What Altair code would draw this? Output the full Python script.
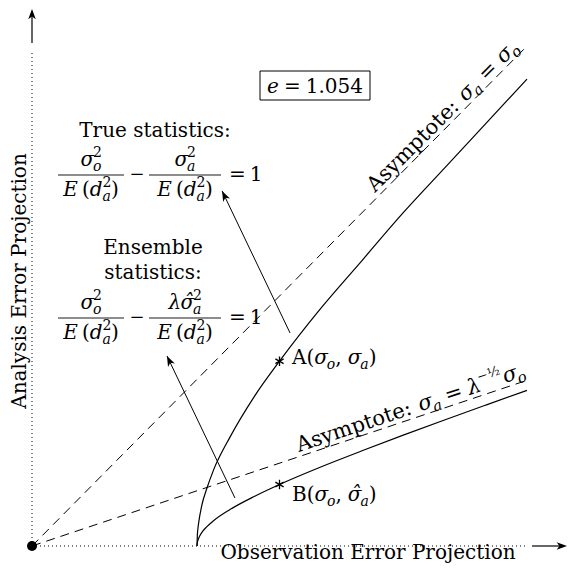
import math
import altair as alt
import pandas as pd

# ---------------- data (sigma in units of sqrt(E(d_a^2))) ----------------
sigma_o = [1.0, 1.002, 1.005, 1.01, 1.03, 1.06, 1.1, 1.2, 1.35, 1.5, 1.75, 2.0, 2.25, 2.5, 2.75, 3.0]
sigma_a_true = [0.0, 0.063, 0.1, 0.14, 0.25, 0.35, 0.46, 0.66, 0.91, 1.12, 1.44, 1.73, 2.02, 2.29, 2.56, 2.83]
sigma_a_ens = [0.0, 0.021, 0.033, 0.047, 0.083, 0.117, 0.153, 0.221, 0.302, 0.373, 0.479, 0.577, 0.672, 0.764, 0.854, 0.943]
asym_o = [0.0, 3.006]
asym_true = [0.0, 3.036]
asym_ens = [0.0, 1.006]
point_names = ["A", "B"]
point_o = [1.5, 1.5]
point_a = [1.12, 0.373]
arrow_tail_o = [1.564, 1.230]
arrow_tail_a = [1.291, 0.291]
arrow_head_o = [1.152, 0.818]
arrow_head_a = [2.152, 1.152]
e_text = "1.054"

# ---------------- layout helpers ----------------
OX, OY, U = 32, 546, 165
W, H = 560, 557
FONT = "DejaVu Serif"


def dx(px):
    return (px - OX) / U


def dy(py):
    return (OY - py) / U


XS = alt.Scale(domain=[dx(8), dx(8 + W)], nice=False, zero=False)
YS = alt.Scale(domain=[dy(8 + H), dy(8)], nice=False, zero=False)


def X(f):
    return alt.X(f, type="quantitative", scale=XS, axis=None)


def Y(f):
    return alt.Y(f, type="quantitative", scale=YS, axis=None)


CW = {'A': .722, 's': .514, 'y': .565, 'm': .948, 'p': .64, 't': .402, 'o': .602,
      'e': .592, ':': .337, ' ': .318, '=': .838, '−': .838, '(': .39, ')': .39,
      '1': .636, '0': .636, '5': .636, '4': .636, '.': .318, '2': .636, ',': .318,
      'B': .732, 'λ': .6, 'σ': .63, 'E': .73, 'd': .64, 'a': .6, '½': .9, '\u0302': 0}


def tw(s, size):
    return sum(CW.get(c, 0.6) for c in s) * size


def adv_of(t, s, a):
    if a is True:
        return tw(t, s)
    if a is False:
        return 0.0
    return float(a)


left_pieces = []    # math pieces, left aligned, alphabetic baseline
center_pieces = []  # plain centered text


def run(x0, y0, items, angle=0.0, center=False):
    total = sum(adv_of(t, s, a) for t, s, it, r, a in items)
    if center:
        x0 -= total / 2
    rad = math.radians(angle)
    c, sn = math.cos(rad), math.sin(rad)
    adv = 0.0
    for t, s, it, rise, a in items:
        px = x0 + adv * c - rise * sn
        py = y0 + adv * sn + rise * c
        if t:
            left_pieces.append(dict(x=dx(px), y=dy(py), t=t, s=s,
                                    it="italic" if it else "normal", ang=angle))
        adv += adv_of(t, s, a)


def gap(w):
    return ("", 20, False, 0, w)


def sig(sub, hat=False, s=20):
    k = s / 20
    return [("σ\u0302" if hat else "σ", s, True, 0, True),
            ("2", round(14 * k), False, -9 * k, False), (sub, round(14 * k), True, 5 * k, True)]


DEN = [("E", 20, True, 0, True), gap(4), ("(", 20, False, 0, True), ("d", 20, True, 0, True),
       ("2", 14, False, -9, False), ("a", 14, True, 5, True), (")", 20, False, 0, True)]

rules = []


def formula(line_y, num2):
    run(91, line_y - 9, sig("o"), center=True)
    run(91, line_y + 21, DEN, center=True)
    rules.append(dict(x=dx(58), x2=dx(124), y=dy(line_y)))
    run(137, line_y + 5, [("−", 18, False, 0, True)], center=True)
    run(185, line_y - 9, num2, center=True)
    run(185, line_y + 21, DEN, center=True)
    rules.append(dict(x=dx(149), x2=dx(221), y=dy(line_y)))
    run(229, line_y + 6, [("=", 20, False, 0, True), gap(4), ("1", 20, False, 0, True)])


formula(175, sig("a"))
formula(318, [("λ", 20, True, 0, True)] + sig("a", hat=True))

# box label
run(315, 93, [("e", 20, True, 0, True), gap(5), ("=", 20, False, 0, True), gap(5),
              (e_text, 20, False, 0, True)], center=True)

# point labels
run(292, 364, [("A(", 20, False, 0, True), ("σ", 20, True, 0, True), ("o", 14, True, 5, True),
               (",", 20, False, 0, True), gap(6), ("σ", 20, True, 0, True), ("a", 14, True, 5, True),
               (")", 20, False, 0, True)])
run(292, 501, [("B(", 20, False, 0, True), ("σ", 20, True, 0, True), ("o", 14, True, 5, True),
               (",", 20, False, 0, True), gap(6), ("σ\u0302", 20, True, 0, True), ("a", 14, True, 5, True),
               (")", 20, False, 0, True)])

# asymptote labels (rotated along the dashed lines)
run(375, 193, [("Asymptote:", 21, False, 0, True), gap(8), ("σ", 21, True, 0, True), ("a", 15, True, 5, True),
               gap(7), ("=", 21, False, 0, True), gap(7), ("σ", 21, True, 0, True), ("o", 15, True, 5, True)],
    angle=315)
run(299, 452, [("Asymptote:", 21, False, 0, True), gap(8), ("σ", 21, True, 0, True), ("a", 15, True, 5, True),
               gap(6), ("=", 21, False, 0, True), gap(6), ("λ", 21, True, 0, True), ("−½", 13, False, -10, True),
               gap(2), ("σ", 21, True, 0, True), ("o", 15, True, 5, True)],
    angle=341.5)

center_pieces += [
    dict(x=dx(155), y=dy(131), t="True statistics:", s=20, ang=0),
    dict(x=dx(153), y=dy(248), t="Ensemble", s=20, ang=0),
    dict(x=dx(153), y=dy(273), t="statistics:", s=20, ang=0),
    dict(x=dx(368), y=dy(553), t="Observation Error Projection", s=20, ang=0),
    dict(x=dx(20), y=dy(281), t="Analysis Error Projection", s=20, ang=270),
]

# ---------------- layers ----------------
curves = pd.DataFrame(
    [dict(o=o, a=a, br="true", i=i) for i, (o, a) in enumerate(zip(sigma_o, sigma_a_true))] +
    [dict(o=o, a=a, br="ens", i=i) for i, (o, a) in enumerate(zip(sigma_o, sigma_a_ens))])
curve_layer = alt.Chart(curves).mark_line(color="black", strokeWidth=1.2, interpolate="monotone").encode(
    x=X("o"), y=Y("a"), detail="br:N", order="i:Q")

asym = pd.DataFrame([dict(o=asym_o[0], a=asym_true[0], o2=asym_o[1], a2=asym_true[1]),
                     dict(o=asym_o[0], a=asym_ens[0], o2=asym_o[1], a2=asym_ens[1])])
asym_layer = alt.Chart(asym).mark_rule(color="black", strokeWidth=1, strokeDash=[9, 6]).encode(
    x=X("o"), y=Y("a"), x2="o2", y2="a2")

axes_dot = pd.DataFrame([dict(x=0, y=0, x2=0, y2=dy(50)), dict(x=0, y=0, x2=dx(526), y2=0)])
axes_dot_layer = alt.Chart(axes_dot).mark_rule(color="black", strokeWidth=1, strokeDash=[1, 3]).encode(
    x=X("x"), y=Y("y"), x2="x2", y2="y2")

axes_sol = pd.DataFrame([dict(x=0, y=dy(43), x2=0, y2=dy(14)), dict(x=dx(532), y=0, x2=dx(561), y2=0)])
axes_sol_layer = alt.Chart(axes_sol).mark_rule(color="black", strokeWidth=1.2).encode(
    x=X("x"), y=Y("y"), x2="x2", y2="y2")

ARROW = "M0,0L-0.55,1.5L0,1.1L0.55,1.5Z"
heads = pd.DataFrame([dict(x=0, y=dy(9), ang=0), dict(x=dx(567), y=0, ang=90)] +
                     [dict(x=ho, y=ha, ang=334.4) for ho, ha in zip(arrow_head_o, arrow_head_a)])
heads_layer = alt.Chart(heads).mark_point(shape=ARROW, filled=True, color="black", size=190, opacity=1).encode(
    x=X("x"), y=Y("y"), angle=alt.Angle("ang:Q", scale=None))

arrows = pd.DataFrame(dict(x=arrow_tail_o, y=arrow_tail_a, x2=arrow_head_o, y2=arrow_head_a))
arrows_layer = alt.Chart(arrows).mark_rule(color="black", strokeWidth=1).encode(
    x=X("x"), y=Y("y"), x2="x2", y2="y2")

origin_layer = alt.Chart(pd.DataFrame(dict(x=[0.0], y=[0.0]))).mark_point(
    shape="circle", filled=True, color="black", size=100, opacity=1).encode(x=X("x"), y=Y("y"))

STAR = "M0,-1L0,1M-0.87,-0.5L0.87,0.5M-0.87,0.5L0.87,-0.5"
pts = pd.DataFrame(dict(name=point_names, o=point_o, a=point_a))
pts_layer = alt.Chart(pts).mark_point(shape=STAR, filled=False, color="black", size=90,
                                      strokeWidth=1.3, opacity=1).encode(x=X("o"), y=Y("a"))

rules_layer = alt.Chart(pd.DataFrame(rules)).mark_rule(color="black", strokeWidth=0.9).encode(
    x=X("x"), x2="x2", y=Y("y"))

box = pd.DataFrame([dict(x=dx(260), x2=dx(370), y=dy(71), y2=dy(100))])
box_layer = alt.Chart(box).mark_rect(fillOpacity=0, stroke="black", strokeWidth=1).encode(
    x=X("x"), x2="x2", y=Y("y"), y2="y2")

lp = pd.DataFrame(left_pieces)
text_layers = []
for style in ["normal", "italic"]:
    sub = lp[lp.it == style]
    text_layers.append(
        alt.Chart(sub).mark_text(font=FONT, fontStyle=style, align="left", baseline="alphabetic",
                                 color="black").encode(
            x=X("x"), y=Y("y"), text="t:N", size=alt.Size("s:Q", scale=None),
            angle=alt.Angle("ang:Q", scale=None)))

center_layer = alt.Chart(pd.DataFrame(center_pieces)).mark_text(
    font=FONT, align="center", baseline="middle", color="black").encode(
    x=X("x"), y=Y("y"), text="t:N", size=alt.Size("s:Q", scale=None),
    angle=alt.Angle("ang:Q", scale=None))

chart = alt.layer(
    axes_dot_layer, axes_sol_layer, asym_layer, curve_layer, arrows_layer, heads_layer,
    origin_layer, pts_layer, rules_layer, box_layer, *text_layers, center_layer
).properties(
    width=W, height=H, padding=0, autosize=alt.AutoSizeParams(type="none")
).configure_view(stroke=None)

chart.save("out.html", embed_options={"renderer": "svg", "actions": False})
